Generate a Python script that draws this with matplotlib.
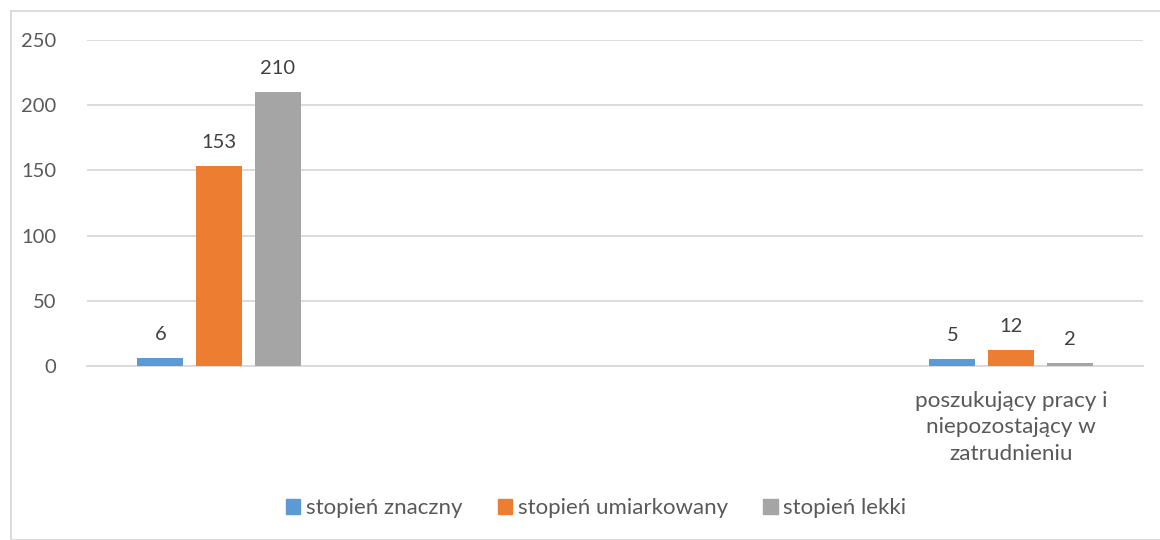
import matplotlib
matplotlib.use("Agg")
import matplotlib.pyplot as plt
import numpy as np
from matplotlib.patches import Rectangle, Patch

categories = ["", "", "", "poszukujący pracy i\nniepozostający w\nzatrudnieniu"]
series_names = ["stopień znaczny", "stopień umiarkowany", "stopień lekki"]
znaczny = [6, None, None, 5]
umiarkowany = [153, None, None, 12]
lekki = [210, None, None, 2]
yticks = [0, 50, 100, 150, 200, 250]

colors = ["#5b9bd5", "#ed7d31", "#a5a5a5"]
txt = "#595959"
plt.rcParams['font.family'] = ['Lato', 'DejaVu Sans']

W, H = 1160, 540
fig = plt.figure(figsize=(W / 100, H / 100), dpi=100)
ax = fig.add_axes([87 / W, 174 / H, (1143 - 87) / W, (366 - 40) / H])

x = np.arange(len(categories))
bw = 0.174
step = 0.222
for i, (vals, c) in enumerate(zip([znaczny, umiarkowany, lekki], colors)):
    v = np.array([np.nan if a is None else a for a in vals], dtype=float)
    pos = x + (i - 1) * step
    ax.bar(pos, np.nan_to_num(v), width=bw, color=c, zorder=3)
    for p, val in zip(pos, v):
        if not np.isnan(val):
            ax.text(p, val + 12, f"{int(val)}", ha="center", va="bottom",
                    fontsize=14.5, color="#404040")

ax.set_xlim(-0.5, len(categories) - 0.5)
ax.set_ylim(0, 250)
ax.set_yticks(yticks)
ax.set_yticklabels([str(t) for t in yticks], fontsize=14.5, color=txt)
ax.set_xticks(x)
ax.set_xticklabels(categories, fontsize=16.2, color=txt, linespacing=1.4)
ax.tick_params(axis="both", length=0)
ax.tick_params(axis="y", pad=22)
ax.tick_params(axis="x", pad=18)
ax.grid(axis="y", color="#d9d9d9", linewidth=1.3, zorder=0)
for s in ["left", "right", "top"]:
    ax.spines[s].set_visible(False)
ax.spines["bottom"].set_color("#d9d9d9")
ax.spines["bottom"].set_linewidth(1.3)

handles = [Patch(color=c) for c in colors]
fig.legend(handles, series_names, loc="center", bbox_to_anchor=(596 / W, 1 - 508 / H),
           ncol=3, frameon=False, fontsize=16, labelcolor=txt,
           handlelength=0.65, handleheight=0.65, handletextpad=0.25, columnspacing=1.6)

fig.patches.append(Rectangle((11 / W, 0), 1.2, 1 - 11 / H, transform=fig.transFigure,
                             fill=False, edgecolor="#d9d9d9", linewidth=1.3))

fig.savefig("out.png", dpi=100, facecolor="white")
